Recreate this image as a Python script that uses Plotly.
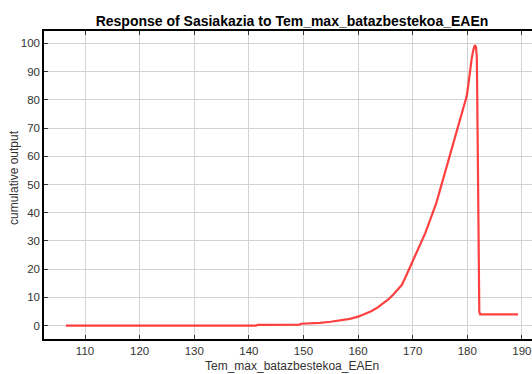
import plotly.graph_objects as go

x_vals = [106.5, 141.3, 141.6, 149.3, 149.6, 152.5, 153.0, 155.0, 156.7, 158.5, 160.0,
          161.3, 162.5, 163.6, 164.6, 165.6, 166.5, 167.3, 168.0, 168.6, 169.2, 169.8,
          170.4, 171.3, 172.3, 173.3, 174.3, 175.0, 175.9, 176.8, 177.4, 178.4, 179.3,
          179.9, 180.2, 180.5, 180.8, 181.1, 181.4, 181.6, 181.75, 181.88, 181.97, 182.06,
          182.2, 182.35, 189.3]
y_vals = [0, 0, 0.3, 0.4, 0.7, 0.8, 1.0, 1.4, 1.8, 2.4, 3.2,
          4.1, 5.2, 6.5, 7.9, 9.4, 11.1, 12.7, 14.4, 16.8, 19.5, 22.0,
          24.6, 28.5, 32.8, 38.0, 43.3, 48.0, 54.0, 60.2, 64.4, 70.9, 77.0,
          81.3, 85.5, 90.5, 94.5, 97.6, 99.4, 98.6, 95.0, 70.0, 45.0, 22.0,
          5.0, 4.0, 4.0]

x_ticks = [110, 120, 130, 140, 150, 160, 170, 180, 190]
y_ticks = [0, 10, 20, 30, 40, 50, 60, 70, 80, 90, 100]

title_text = "Response of Sasiakazia to Tem_max_batazbestekoa_EAEn"
x_title = "Tem_max_batazbestekoa_EAEn"
y_title = "cumulative output"

W, H = 532, 374
ML, MR, MT, MB = 44, 0, 31, 374 - 339
PW, PH = W - ML - MR, H - MT - MB

fig = go.Figure()
fig.add_trace(go.Scatter(x=x_vals, y=y_vals, mode="lines",
                         line=dict(color="rgba(255,30,30,0.85)", width=2.2),
                         showlegend=False, hoverinfo="skip"))

font_family = "Liberation Sans, Arial, sans-serif"
fig.update_layout(
    width=W, height=H,
    margin=dict(l=ML, r=MR, t=MT, b=MB, autoexpand=False),
    paper_bgcolor="white", plot_bgcolor="white",
    title=dict(text="<b>" + title_text + "</b>", x=292 / W, xanchor="center",
               y=1 - 21 / H, yanchor="middle",
               font=dict(family=font_family, size=14, color="black")),
    font=dict(family=font_family, size=12, color="#333333"),
    annotations=[
        dict(text=x_title, xref="paper", yref="paper",
             x=(292 - ML) / PW, y=-(366 - 339) / PH,
             xanchor="center", yanchor="middle", showarrow=False,
             font=dict(size=12, color="#333333")),
        dict(text=y_title, xref="paper", yref="paper",
             x=-(ML - 14) / PW, y=(339 - 178) / PH,
             xanchor="center", yanchor="middle", showarrow=False, textangle=-90,
             font=dict(size=12, color="#333333")),
    ],
)
fig.update_xaxes(
    range=[102.49, 191.85], tickvals=x_ticks, ticks="inside", ticklen=4,
    tickcolor="#333333", showline=True, linecolor="black", linewidth=1.5,
    mirror="ticks", showgrid=True, gridcolor="#d3d3d3", gridwidth=1,
    zeroline=False, tickfont=dict(size=11.5, color="#333333"), automargin=False,
    ticklabeloverflow="allow",
)
fig.update_yaxes(
    range=[-4.71, 104.36], tickvals=y_ticks, ticks="inside", ticklen=4,
    tickcolor="#333333", showline=True, linecolor="black", linewidth=1.5,
    showgrid=True, gridcolor="#d3d3d3", gridwidth=1, zeroline=False,
    tickfont=dict(size=11.5, color="#333333"), automargin=False,
)

fig.write_html("out.html",
               config={"displayModeBar": False},
               post_script="document.body.style.margin='0';"
                           "document.body.style.overflow='hidden';")
